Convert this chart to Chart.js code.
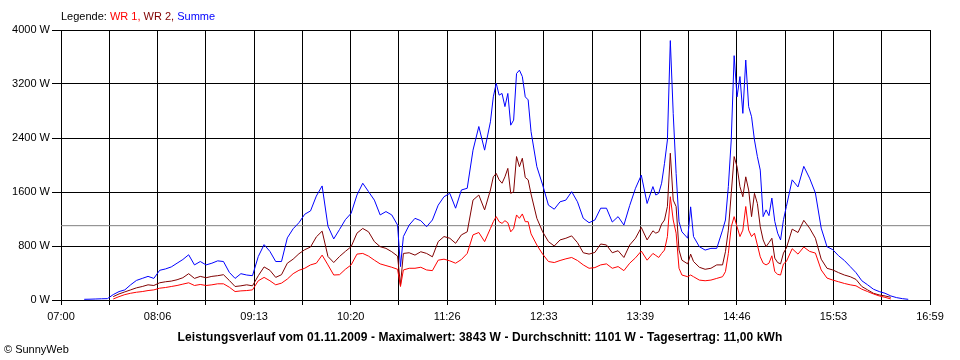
<!DOCTYPE html>
<html lang="de">
<head>
<meta charset="UTF-8">
<title>Leistungsverlauf 01.11.2009</title>
<script src="https://cdn.jsdelivr.net/npm/chart.js"></script>
<style>
  html, body { margin: 0; padding: 0; background: #fff; }
  #wrap { position: relative; width: 960px; height: 360px; font-family: "Liberation Sans", Arial, sans-serif; }
  #chart { position: absolute; left: 0; top: 0; }
  .txt { position: absolute; white-space: nowrap; color: #000; }
  #legend { left: 61px; top: 9px; font-size: 11px; line-height: 14px; }
  #caption { left: 0; width: 960px; top: 330px; text-align: center; font-size: 12px; font-weight: bold; line-height: 14px; letter-spacing: 0.1px; }
  #copy { left: 4px; top: 342px; font-size: 11px; line-height: 14px; }
</style>
</head>
<body>
<div id="wrap">
  <canvas id="chart" width="960" height="360"></canvas>
  <div id="legend" class="txt">Legende: <span style="color:#ff0000">WR 1,</span> <span style="color:#800000">WR 2,</span> <span style="color:#0000ff">Summe</span></div>
  <div id="caption" class="txt">Leistungsverlauf vom 01.11.2009 - Maximalwert: 3843 W - Durchschnitt: 1101 W - Tagesertrag: 11,00 kWh</div>
  <div id="copy" class="txt">&copy; SunnyWeb</div>
</div>

<script>
// minutes after 07:00
const minutes = [
  16, 20, 24, 28, 32,
  36, 40, 44, 48, 52, 56, 60, 64, 68, 72, 76, 80, 84, 88, 92, 96, 100, 104, 108, 112, 116, 120, 124, 128, 132,
  136, 140, 144, 148, 152, 156, 160, 164, 168, 172, 176, 180, 184, 188, 192, 196, 200, 204, 208, 212, 216, 220, 224, 228, 232,
  234,
  236, 240, 244, 248, 252, 256, 260, 264, 268, 272, 276, 280, 284, 288, 292,
  296, 298, 300, 302, 304, 306, 308, 310, 312, 314, 316, 318, 320, 322, 324,
  328, 332, 336, 340, 344, 348, 352, 356, 360, 364, 368, 372, 376, 380, 384, 388, 392, 396, 400, 404, 408,
  410, 412, 414, 416, 418, 420, 422, 424, 426, 428,
  432, 434, 436,
  440, 444, 448, 452, 456,
  458, 460, 462, 464, 466, 468, 470, 472, 474, 476, 478, 480, 482, 484, 486, 488, 490, 492, 494, 496, 498, 500,
  504, 508, 512, 516, 520, 524, 528, 532, 536, 540, 544, 548, 552, 556, 560, 564, 568, 572, 576, 580, 584
];

const summe = [
  10, 12, 15, 18, 20,
  80, 125, 150, 225, 290, 320, 350, 320, 440, 460, 490, 545, 600, 670, 520, 570, 520, 545, 580, 570, 410, 320, 390, 370, 360,
  645, 820, 720, 570, 570, 920, 1055, 1145, 1270, 1320, 1540, 1690, 1095, 905, 1045, 1190, 1285, 1555, 1730, 1605, 1480, 1260, 1310, 1260, 1110,
  495,
  940, 1110, 1210, 1175, 1085, 1185, 1405, 1530, 1580, 1360, 1630, 1655, 2220, 2570, 2220,
  2640, 3010, 3210, 3035, 3060, 2865, 3060, 2590, 2665, 3355, 3405, 3310, 3010, 2965, 2495,
  1975, 1705, 1405, 1345, 1455, 1480, 1605, 1455, 1210, 1145, 1185, 1360, 1360, 1155, 1235, 1110, 1400, 1655, 1850, 1430, 1680,
  1555, 1580, 1730, 2025, 2370, 3843, 2765, 1875, 1160, 1010,
  915, 1380, 940,
  790, 740, 765, 765, 1035,
  1185, 1680, 2370, 3620, 3010, 3310, 2765, 3555, 2865, 2715, 2370, 2125, 1925, 1235, 1335, 1250, 1510, 1165, 990, 890, 1190, 1385,
  1780, 1675, 1980, 1805, 1585, 1065, 790, 745, 655, 585, 495, 405, 285, 225, 160, 125, 100, 60, 35, 20, 10
];

const wr2 = [
  null, null, null, null, null,
  50, 90, 120, 150, 180, 200, 225, 215, 255, 270, 280, 300, 330, 390, 320, 350, 330, 350, 360, 375, 290, 200, 210, 225, 210,
  360, 490, 440, 335, 375, 545, 605, 685, 745, 785, 935, 1020, 645, 555, 645, 720, 790, 990, 1060, 1010, 865, 790, 765, 715, 650,
  220,
  690, 700, 665, 715, 690, 640, 865, 940, 915, 840, 965, 1010, 1480, 1555, 1335,
  1630, 1825, 1875, 1780, 1730, 1825, 1950, 1580, 1605, 2125, 1975, 2100, 1815, 1780, 1570,
  1210, 1010, 865, 800, 890, 915, 950, 850, 700, 680, 705, 830, 815, 700, 730, 630, 815, 915, 1075, 890, 1025,
  990, 1010, 1125, 1185, 1385, 2175, 1480, 1385, 740, 590,
  535, 680, 570,
  485, 455, 470, 520, 520,
  715, 1035, 1580, 2125, 1975, 1680, 1530, 1825, 1630, 1235, 1580, 1430, 1085, 890, 790, 850, 915, 620, 555, 535, 695, 770,
  1050, 1000, 1180, 1065, 915, 605, 470, 445, 405, 370, 345, 305, 200, 150, 100, 75, 60, 40, null, null, null
];

const wr1 = [
  null, null, null, null, null,
  15, 50, 80, 100, 115, 125, 140, 150, 175, 185, 200, 215, 235, 255, 215, 230, 215, 225, 240, 240, 190, 125, 135, 140, 150,
  285, 335, 285, 225, 250, 310, 390, 440, 470, 520, 545, 665, 520, 370, 375, 455, 520, 680, 690, 650, 590, 535, 510, 485, 455,
  200,
  445, 470, 470, 485, 445, 435, 590, 605, 580, 545, 600, 690, 965, 1000, 865,
  1060, 1160, 1235, 1160, 1135, 1175, 1145, 1010, 1060, 1260, 1210, 1275, 1160, 1160, 980,
  815, 680, 570, 555, 585, 610, 630, 585, 520, 470, 480, 520, 535, 470, 495, 435, 545, 625, 725, 590, 690,
  660, 630, 690, 740, 940, 1530, 1185, 990, 470, 370,
  345, 370, 345,
  295, 285, 295, 320, 345,
  420, 690, 1085, 1235, 1085, 940, 1035, 1385, 1035, 940, 990, 815, 640, 545, 520, 545, 655, 420, 380, 370, 535, 570,
  760, 680, 785, 720, 695, 445, 325, 295, 270, 245, 225, 210, 160, 125, 90, 60, 40, 15, null, null, null
];

const durchschnitt = 1101;
const timeLabels = ['07:00', '08:06', '09:13', '10:20', '11:26', '12:33', '13:39', '14:46', '15:53', '16:59'];
const xMax = 599; // 07:00 .. 16:59

function pts(series) {
    return minutes.map((m, i) => ({ x: m, y: series[i] }));
}

Chart.defaults.font.family = '"Liberation Sans", Arial, sans-serif';
Chart.defaults.font.size = 11;
Chart.defaults.color = '#000';

const ctx = document.getElementById('chart').getContext('2d');
new Chart(ctx, {
    type: 'line',
    data: {
        datasets: [
            { label: 'WR 1', data: pts(wr1), borderColor: '#ff0000' },
            { label: 'WR 2', data: pts(wr2), borderColor: '#800000' },
            { label: 'Summe', data: pts(summe), borderColor: '#0000ff' },
            { label: 'Durchschnitt', data: [{ x: 0, y: durchschnitt }, { x: xMax, y: durchschnitt }], borderColor: '#808080' }
        ]
    },
    options: {
        responsive: false,
        animation: false,
        spanGaps: false,
        elements: {
            line: { borderWidth: 1, tension: 0, fill: false },
            point: { radius: 0, hoverRadius: 0 }
        },
        layout: { padding: { top: 30, right: 30, left: 0, bottom: 0 } },
        plugins: {
            legend: { display: false },
            tooltip: { enabled: false },
            title: { display: false }
        },
        scales: {
            x: {
                type: 'linear',
                min: 0,
                max: xMax,
                afterBuildTicks: (scale) => {
                    scale.ticks = Array.from({ length: 19 }, (_, i) => ({ value: i * xMax / 18 }));
                },
                afterFit: (scale) => { scale.height = 60; },
                ticks: {
                    autoSkip: false,
                    maxRotation: 0,
                    padding: 5,
                    callback: (v, i) => (i % 2 === 0 ? timeLabels[i / 2] : '')
                },
                grid: { color: '#000', lineWidth: 1, tickLength: 5 },
                border: { color: '#000', width: 1 }
            },
            y: {
                min: 0,
                max: 4000,
                afterFit: (scale) => { scale.width = 61; },
                ticks: {
                    stepSize: 800,
                    padding: 2,
                    callback: (v) => v + ' W'
                },
                grid: { color: '#000', lineWidth: 1, tickLength: 9 },
                border: { color: '#000', width: 1 }
            }
        }
    }
});
</script>
</body>
</html>
